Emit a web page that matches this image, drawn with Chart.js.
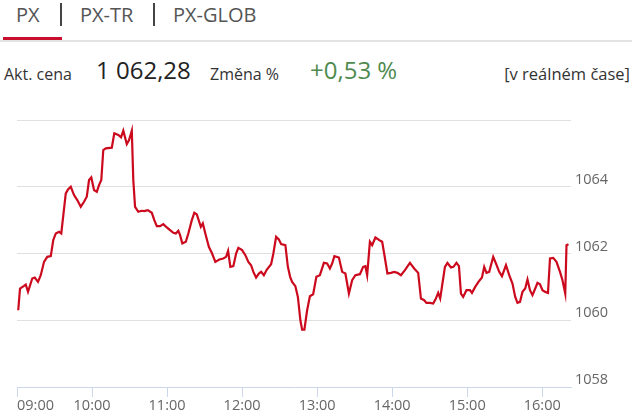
<!DOCTYPE html>
<html>
<head>
<meta charset="utf-8">
<script src="https://cdn.jsdelivr.net/npm/chart.js@4/dist/chart.umd.min.js"></script>
<style>
  body { margin: 0; width: 640px; height: 414px; overflow: hidden; background: #fff; font-family: "Open Sans", sans-serif; position: relative; }
  .t { position: absolute; line-height: 1; white-space: nowrap; }
  .tab { font-size: 20px; color: #555; top: 5px; }
  .sep { position: absolute; top: 3px; width: 2px; height: 23px; background: #444; }
  #redbar { position: absolute; left: 3px; top: 37px; width: 59px; height: 3px; background: #c8102e; }
  #line { position: absolute; left: 0; top: 40px; width: 632px; height: 2px; background: #e3e3e3; }
  .lbl { font-size: 16px; color: #333; top: 66px; }
  .big { font-size: 24px; top: 58px; }
  #wrap { position: absolute; left: 0; top: 100px; width: 640px; height: 314px; }
</style>
</head>
<body>
<span class="t tab" style="left:16px">PX</span>
<div class="sep" style="left:60px"></div>
<span class="t tab" style="left:80px">PX-TR</span>
<div class="sep" style="left:153px"></div>
<span class="t tab" style="left:173px">PX-GLOB</span>
<div id="redbar"></div>
<div id="line"></div>

<span class="t lbl" style="left:4px">Akt. cena</span>
<span class="t big" style="left:96px;color:#222">1 062,28</span>
<span class="t lbl" style="left:210px">Změna %</span>
<span class="t big" style="left:310px;color:#4f8a4f">+0,53 %</span>
<span class="t lbl" style="right:10px;font-size:16.5px">[v reálném čase]</span>

<div id="wrap"><canvas id="chart"></canvas></div>

<script>
// intraday PX index, time in minutes after midnight
const times = [
  541.0, 542.4, 545.6, 547.0, 548.8, 552.2, 554.2, 556.8, 559.0, 561.6,
  564.2, 567.0, 569.0, 571.0, 573.6, 575.4, 579.0, 580.8, 583.0, 585.6,
  588.2, 591.0, 593.6, 595.8, 597.6, 599.4, 601.6, 603.8, 605.6, 607.4,
  609.0, 611.0, 615.8, 617.8, 621.0, 623.2, 625.0, 627.8, 629.6, 631.8,
  633.0, 634.4, 637.0, 639.8, 641.8, 644.6, 647.8, 649.8, 651.8, 654.4,
  657.0, 659.8, 662.4, 665.0, 667.0, 669.0, 670.4, 672.2, 675.0, 677.0,
  679.8, 681.8, 683.8, 687.0, 688.6, 690.6, 693.4, 696.0, 698.6, 701.8,
  705.0, 707.2, 708.8, 710.6, 713.0, 715.2, 717.0, 720.0, 722.6, 725.0,
  727.2, 729.0, 731.2, 733.4, 735.2, 737.4, 739.8, 743.2, 745.0, 747.2,
  749.4, 751.2, 754.6, 756.6, 758.4, 760.0, 762.6, 764.6, 766.6, 768.0,
  769.8, 772.0, 774.2, 776.8, 779.4, 782.2, 785.4, 788.0, 790.2, 792.0,
  793.8, 797.4, 800.0, 802.6, 805.4, 808.0, 810.6, 814.2, 816.8, 818.6,
  820.0, 822.2, 824.0, 826.6, 830.6, 832.0, 833.6, 836.2, 839.0, 841.6,
  844.2, 847.0, 850.2, 854.2, 857.6, 860.8, 863.0, 865.6, 867.4, 870.2,
  872.8, 874.6, 876.8, 878.4, 880.2, 882.2, 884.2, 887.0, 889.0, 891.4,
  893.4, 895.0, 896.8, 899.4, 902.2, 903.8, 906.4, 909.0, 911.8, 913.6,
  915.4, 917.6, 920.8, 923.0, 925.6, 927.8, 931.0, 933.6, 936.2, 938.4,
  940.2, 942.2, 944.2, 946.4, 948.2, 950.2, 952.2, 954.4, 956.2, 958.2,
  960.2, 962.4, 964.6, 966.2, 968.8, 971.4, 974.2, 976.2, 978.4, 979.4,
  981.0
];
const prices = [
  1060.30, 1060.95, 1061.03, 1061.07, 1060.85, 1061.25, 1061.28, 1061.15, 1061.35, 1061.75,
  1061.90, 1061.92, 1062.40, 1062.60, 1062.65, 1062.60, 1063.80, 1063.92, 1064.00, 1063.75,
  1063.60, 1063.40, 1063.55, 1063.70, 1064.20, 1064.28, 1063.90, 1063.85, 1064.05, 1064.20,
  1065.10, 1065.15, 1065.17, 1065.60, 1065.55, 1065.48, 1065.68, 1065.28, 1065.40, 1065.68,
  1064.20, 1063.40, 1063.25, 1063.28, 1063.27, 1063.30, 1063.22, 1063.00, 1062.82, 1062.82,
  1062.88, 1062.78, 1062.70, 1062.62, 1062.60, 1062.68, 1062.55, 1062.30, 1062.35, 1062.60,
  1063.00, 1063.22, 1063.17, 1062.80, 1062.90, 1062.60, 1062.20, 1062.00, 1061.75, 1061.82,
  1061.85, 1061.90, 1062.08, 1061.60, 1061.62, 1062.00, 1062.17, 1062.10, 1061.95, 1061.75,
  1061.65, 1061.45, 1061.28, 1061.40, 1061.45, 1061.35, 1061.52, 1061.68, 1062.00, 1062.50,
  1062.42, 1062.28, 1062.25, 1061.60, 1061.30, 1061.15, 1061.02, 1060.70, 1060.00, 1059.72,
  1059.72, 1060.30, 1060.72, 1060.78, 1061.30, 1061.35, 1061.72, 1061.70, 1061.55, 1061.70,
  1061.92, 1061.88, 1061.45, 1061.40, 1060.80, 1061.20, 1061.35, 1061.38, 1061.60, 1061.62,
  1061.35, 1062.35, 1062.25, 1062.48, 1062.38, 1062.35, 1062.00, 1061.40, 1061.42, 1061.45,
  1061.42, 1061.35, 1061.50, 1061.72, 1061.55, 1061.42, 1060.65, 1060.60, 1060.52, 1060.52,
  1060.50, 1060.62, 1060.82, 1060.65, 1061.10, 1061.60, 1061.72, 1061.58, 1061.60, 1061.72,
  1061.62, 1060.80, 1060.70, 1060.90, 1060.90, 1060.82, 1061.00, 1061.15, 1061.28, 1061.60,
  1061.42, 1061.45, 1061.90, 1061.70, 1061.45, 1061.32, 1061.65, 1061.35, 1061.10, 1060.70,
  1060.52, 1060.55, 1060.85, 1060.95, 1061.22, 1060.90, 1060.75, 1060.95, 1061.12, 1061.08,
  1060.90, 1060.85, 1060.82, 1061.85, 1061.87, 1061.75, 1061.45, 1061.20, 1060.80, 1062.25,
  1062.28
];
const hourTicks = [540, 600, 660, 720, 780, 840, 900, 960];
const hourLabels = ['09:00', '10:00', '11:00', '12:00', '13:00', '14:00', '15:00', '16:00'];
const priceTicks = [1058, 1060, 1062, 1064, 1066];
const xMin = 540, xMax = 983;

const axisFont = { family: 'Open Sans', size: 14.5 };

new Chart(document.getElementById('chart'), {
  type: 'line',
  data: {
    datasets: [{
      data: times.map((t, i) => ({ x: t, y: prices[i] })),
      borderColor: '#cc0a1e',
      borderWidth: 2.2,
      pointRadius: 0,
      tension: 0,
      fill: false
    }]
  },
  options: {
    responsive: true,
    maintainAspectRatio: false,
    animation: false,
    layout: { padding: { left: 17, top: 20, right: 0, bottom: 0 } },
    plugins: { legend: { display: false }, tooltip: { enabled: false } },
    scales: {
      x: {
        type: 'linear',
        min: xMin,
        max: xMax,
        afterBuildTicks: axis => { axis.ticks = hourTicks.concat([xMax]).map(v => ({ value: v })); },
        afterFit: s => { s.height = 27; },
        ticks: {
          align: 'inner',
          autoSkip: false,
          maxRotation: 0,
          padding: 0,
          color: '#666',
          font: axisFont,
          callback: v => { const i = hourTicks.indexOf(v); return i < 0 ? '' : hourLabels[i]; }
        },
        grid: {
          drawOnChartArea: false,
          tickLength: 10,
          color: ctx => ctx.index >= hourTicks.length ? 'rgba(0,0,0,0)' : '#ccd6eb'
        },
        border: { display: true, color: '#ccd6eb', width: 1 }
      },
      y: {
        position: 'right',
        min: 1058,
        max: 1066,
        afterBuildTicks: axis => { axis.ticks = priceTicks.map(v => ({ value: v })); },
        afterFit: s => { s.width = 69; },
        ticks: {
          padding: 4,
          labelOffset: -7,
          color: '#666',
          font: axisFont,
          callback: v => v === 1066 ? '' : String(v)
        },
        grid: {
          drawTicks: false,
          color: ctx => ctx.tick && ctx.tick.value === 1058 ? 'rgba(0,0,0,0)' : '#e0e0e0'
        },
        border: { display: false }
      }
    }
  }
});
</script>
</body>
</html>
